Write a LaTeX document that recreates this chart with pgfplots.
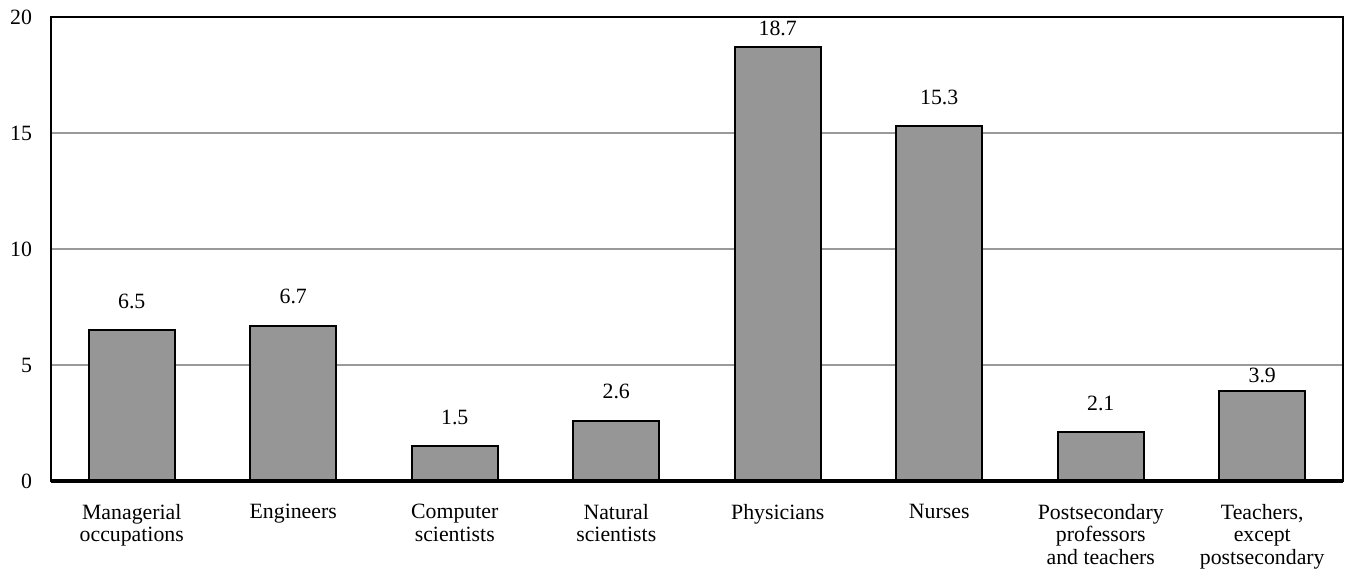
\documentclass[border=0pt]{standalone}
\usepackage{pgfplots}
\pgfplotsset{compat=1.18}
\usepackage{pgfplotstable}
\usepackage{fontspec}
\setmainfont{Liberation Serif}
\definecolor{barfill}{HTML}{969696}
\definecolor{gridc}{HTML}{9A9A9A}
\pgfplotstableread{
x y shift
0 6.5 7
1 6.7 7
2 1.5 7
3 2.6 7
4 18.7 2
5 15.3 7
6 2.1 7
7 3.9 0
}\datatable
\begin{document}
\begin{tikzpicture}
\begin{axis}[
  scale only axis,
  width=646pt, height=232pt,
  xmin=-0.5, xmax=7.5,
  ymin=0, ymax=20,
  ytick={0,5,10,15,20},
  xtick=data,
  xticklabels={{Managerial\\occupations},{Engineers},{Computer\\scientists},{Natural\\scientists},{Physicians},{Nurses},{Postsecondary\\professors\\and teachers},{Teachers,\\except\\postsecondary}},
  major tick length=0pt,
  ymajorgrids,
  grid style={gridc, line width=0.75pt},
  axis line style={black, line width=1.1pt},
  /pgf/number format/assume math mode=true,
  tick label style={font=\fontsize{10.9}{11.4}\selectfont},
  yticklabel style={xshift=-6pt},
  xticklabel style={align=center, yshift=-8pt},
  ybar, bar width=43pt,
  clip=false,
  nodes near coords,
  visualization depends on={\thisrow{shift} \as \myshift},
  every node near coord/.append style={font=\fontsize{10.9}{11.4}\selectfont, anchor=south, yshift=\myshift},
]
\addplot[fill=barfill, draw=black, line width=1pt] table[x=x, y=y] {\datatable};
\draw[black, line width=1.6pt] (rel axis cs:0,0) -- (rel axis cs:1,0);
\end{axis}
\pgfresetboundingbox
\path[use as bounding box] ([xshift=-25.5pt,yshift=-44pt]current axis.south west) rectangle ([xshift=5pt,yshift=8.5pt]current axis.north east);
\end{tikzpicture}
\end{document}
